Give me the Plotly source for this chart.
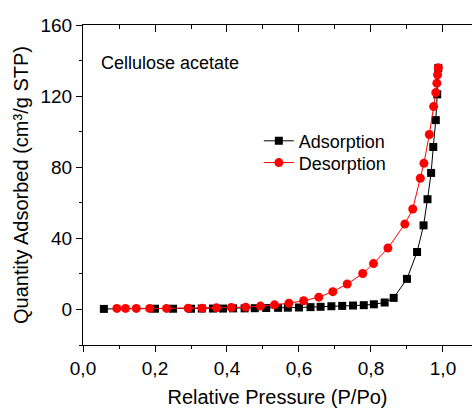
import plotly.graph_objects as go

# Adsorption branch (P/Po, quantity adsorbed)
ads_x = [0.058, 0.200, 0.250, 0.300, 0.330, 0.361, 0.389, 0.417, 0.449, 0.477,
         0.509, 0.542, 0.569, 0.600, 0.632, 0.660, 0.690, 0.720, 0.750, 0.780,
         0.808, 0.838, 0.863, 0.900, 0.928, 0.946, 0.957, 0.967, 0.973, 0.980,
         0.984, 0.987]
ads_y = [0.3, 0.4, 0.4, 0.4, 0.5, 0.5, 0.5, 0.6, 0.6, 0.7,
         0.8, 0.9, 1.0, 1.1, 1.3, 1.5, 1.8, 2.0, 2.2, 2.4,
         2.9, 3.9, 6.5, 17.2, 32.3, 47.3, 62.0, 76.8, 91.4, 106.5,
         121.0, 135.8]

# Desorption branch
des_x = [0.987, 0.985, 0.983, 0.980, 0.974, 0.962, 0.947, 0.937, 0.916, 0.894,
         0.847, 0.807, 0.777, 0.734, 0.694, 0.655, 0.613, 0.572, 0.532, 0.493,
         0.452, 0.412, 0.371, 0.331, 0.292, 0.232, 0.185, 0.148, 0.118, 0.094]
des_y = [136.0, 132.0, 127.3, 122.0, 114.1, 98.4, 82.2, 73.8, 56.5, 48.0,
         34.5, 25.8, 20.2, 14.3, 10.0, 6.9, 4.9, 3.5, 2.6, 1.9,
         1.3, 1.1, 0.9, 0.7, 0.7, 0.6, 0.6, 0.6, 0.6, 0.6]

x_ticks = [0.0, 0.2, 0.4, 0.6, 0.8, 1.0]
x_tick_labels = ["0,0", "0,2", "0,4", "0,6", "0,8", "1,0"]
y_ticks = [0, 40, 80, 120, 160]

FONT = "Liberation Sans, Arial, sans-serif"

fig = go.Figure()
fig.add_trace(go.Scatter(
    x=ads_x, y=ads_y, mode="lines+markers", name="Adsorption",
    line=dict(color="black", width=1),
    marker=dict(symbol="square", size=8, color="black"),
    legend="legend",
))
fig.add_trace(go.Scatter(
    x=des_x, y=des_y, mode="lines+markers", name="Desorption",
    line=dict(color="#ff0000", width=1),
    marker=dict(symbol="circle", size=9, color="#ff0000"),
    legend="legend2",
))
# invisible trace to host the top (mirror) axis with inward ticks
fig.add_trace(go.Scatter(
    x=ads_x, y=ads_y, xaxis="x2", mode="markers", showlegend=False,
    marker=dict(opacity=0), hoverinfo="skip",
))

leg_common = dict(xanchor="left", yanchor="top", font=dict(size=18),
                  bgcolor="rgba(0,0,0,0)")

fig.update_layout(
    width=472, height=410,
    margin=dict(l=83, r=0, t=25, b=65),
    paper_bgcolor="white", plot_bgcolor="white",
    font=dict(family=FONT, color="black", size=19),
    showlegend=True,
    legend=dict(x=0.452, y=0.695, **leg_common),
    legend2=dict(x=0.452, y=0.627, **leg_common),
    xaxis=dict(
        range=[0, 1.0806], tickvals=x_ticks, ticktext=x_tick_labels,
        ticks="outside", ticklen=6, tickwidth=1, tickcolor="black",
        showline=True, linecolor="black", linewidth=1.2,
        showgrid=False, zeroline=False,
        minor=dict(dtick=0.1, tick0=0, ticks="outside", ticklen=3, tickcolor="black"),
        title=dict(text="Relative Pressure (P/Po)", font=dict(size=20), standoff=12),
        tickfont=dict(size=19),
    ),
    xaxis2=dict(
        overlaying="x", matches="x", side="top", anchor="y",
        range=[0, 1.0806], tickvals=x_ticks, showticklabels=False,
        ticks="inside", ticklen=7, tickwidth=1, tickcolor="black",
        showline=True, linecolor="black", linewidth=1.2,
        showgrid=False, zeroline=False,
        minor=dict(dtick=0.1, tick0=0, ticks="inside", ticklen=4, tickcolor="black"),
    ),
    yaxis=dict(
        range=[-20, 160], tickvals=y_ticks,
        ticks="outside", ticklen=6, tickwidth=1, tickcolor="black",
        showline=True, linecolor="black", linewidth=1.2,
        showgrid=False, zeroline=False,
        minor=dict(dtick=20, tick0=0, ticks="outside", ticklen=3, tickcolor="black"),
        title=dict(text="Quantity Adsorbed (cm³/g STP)", font=dict(size=20), standoff=6),
        tickfont=dict(size=19),
    ),
    annotations=[dict(
        text="Cellulose acetate", xref="paper", yref="paper",
        x=0.04, y=0.882, xanchor="left", yanchor="middle",
        showarrow=False, font=dict(size=18),
    )],
)

fig.write_html("out.html")
